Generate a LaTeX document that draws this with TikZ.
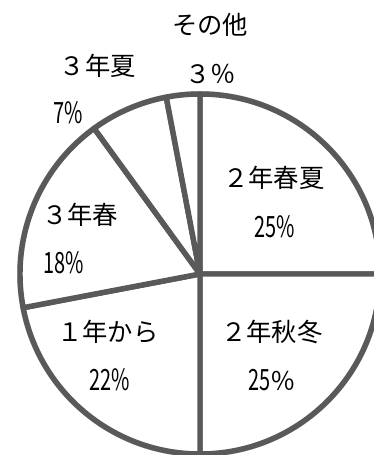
\documentclass[tikz,border=0pt]{standalone}
\usepackage{fontspec}
\usepackage{graphicx}
\newfontfamily\jpfont{Noto Sans CJK JP}
\definecolor{pieline}{HTML}{595959}
\newcommand{\halfw}[1]{\scalebox{0.68}[1]{#1}}
\begin{document}
\begin{tikzpicture}[x=0.75pt,y=0.75pt,line join=round]
        % Styles
        \tikzstyle{slice line}=[draw=pieline,line width=4.1pt]
        \tikzstyle{shadow line}=[draw=black!20,line width=4.5pt]
        \tikzstyle{label text}=[font=\jpfont\fontsize{19}{22}\selectfont,inner sep=0pt]
        \tikzstyle{pct text}=[font=\jpfont\fontsize{22}{24}\selectfont,inner sep=0pt]
        %The graphic
        \useasboundingbox (0,0) rectangle (374,455);
        \clip (0,0) rectangle (374,455);
        \coordinate (centre) at (200,181);
        %shadow
        \foreach \a/\b in {90/0,0/-90,-90/-169.2,-169.2/-234,-234/-259.2,-259.2/-270}
            \draw[shadow line,xshift=2.5,yshift=-2.5] (centre) -- ++(\a:180) arc[start angle=\a,end angle=\b,radius=180] -- cycle;
        %slices
        \foreach \a/\b in {90/0,0/-90,-90/-169.2,-169.2/-234,-234/-259.2,-259.2/-270}
            \draw[slice line,fill=white] (centre) -- ++(\a:180) arc[start angle=\a,end angle=\b,radius=180] -- cycle;
        %labels
        \node[label text] (other) at (210,430) {その他};
        \node[label text] (other pct) at (211,381) {３％};
        \node[label text] (summer3) at (98,389) {３年夏};
        \node[pct text] (summer3 pct) at (68,342) {\halfw{7\%}};
        \node[label text] (spring2) at (274,277) {２年春夏};
        \node[pct text] (spring2 pct) at (275,228) {\halfw{25\%}};
        \node[label text] (spring3) at (80,240) {３年春};
        \node[pct text] (spring3 pct) at (64,192) {\halfw{18\%}};
        \node[label text] (year1) at (108,123) {１年から};
        \node[pct text] (year1 pct) at (110,75) {\halfw{22\%}};
        \node[label text] (autumn2) at (272,123) {２年秋冬};
        \node[pct text] (autumn2 pct) at (272,75) {\halfw{25}{\fontsize{19}{22}\selectfont ％}};
\end{tikzpicture}
\end{document}
